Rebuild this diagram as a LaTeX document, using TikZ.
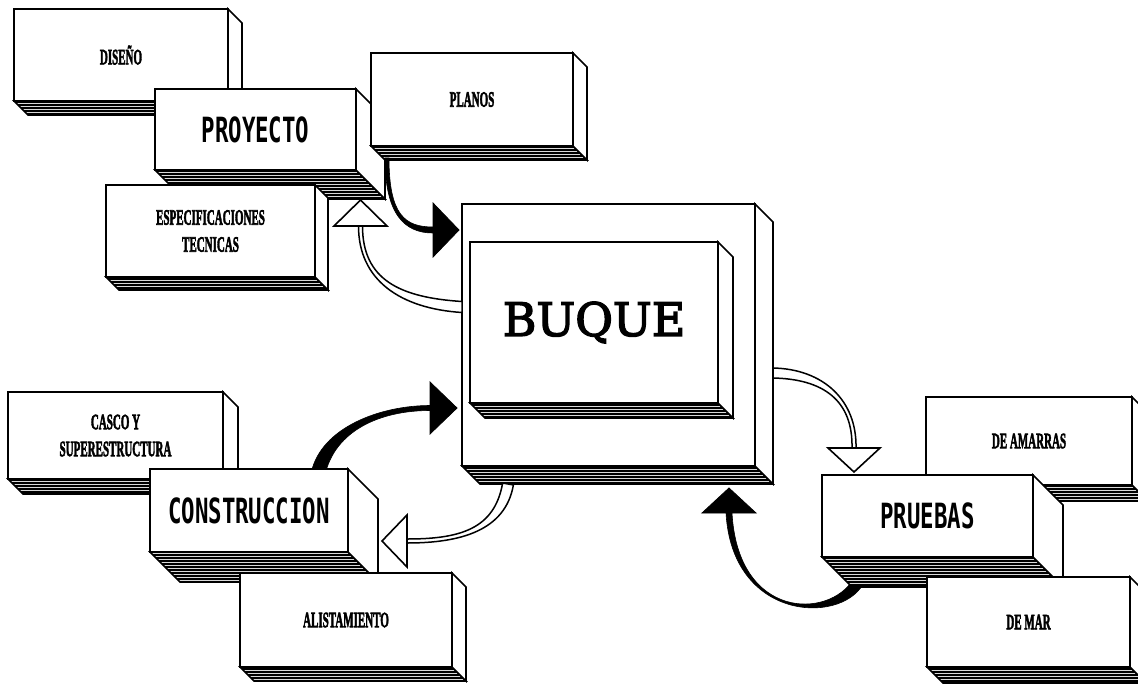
\documentclass[tikz,border=0pt]{standalone}
\usepackage{fontspec}
\usetikzlibrary{patterns,calc}
\newfontfamily\bigfont{DejaVu Sans Mono}
\newfontfamily\smfont[FakeBold=3]{Liberation Serif}
\newfontfamily\buqfont[FakeBold=3]{DejaVu Serif}
\newcommand\narrow[1]{\scalebox{0.5}[1]{#1}}
\newcommand\tallmono[1]{\scalebox{1}[1.55]{#1}}

\tikzset{
  boxline/.style={draw=black, line width=1.6pt, line join=miter},
  boxfront/.style={boxline, fill=white, anchor=north west, inner sep=0pt, outer sep=0pt, align=center},
  boxside/.style={boxline, fill=white},
  boxbottom/.style={boxline, preaction={fill=black}, pattern=horizontal lines, pattern color=gray!30},
  bigtxt/.style={font=\bigfont\bfseries\fontsize{22.4}{26}\selectfont},
  smtxt/.style={font=\smfont\bfseries\fontsize{22}{27}\selectfont},
  buqtxt/.style={font=\buqfont\fontsize{46}{50}\selectfont},
  blackarrow/.style={fill=black, draw=black, line width=0.6pt},
  hollowarrow/.style={fill=white, draw=black, line width=1.5pt, line join=round},
  blackhead/.style={fill=black, draw=black, line width=0.8pt, line join=miter},
  whitehead/.style={fill=white, draw=black, line width=1.6pt, line join=miter},
}

% name, x, y, width, height, depth, text style, text
\newcommand\boxthreed[8]{%
  \node[boxfront,#7, minimum width=#4pt, minimum height=#5pt] (#1) at (#2,#3) {#8};
  \path[boxbottom] (#1.south west) -- ++(#6,#6) -- ($(#1.south east)+(#6,#6)$) -- (#1.south east) -- cycle;
  \path[boxside] (#1.north east) -- ++(#6,#6) -- ($(#1.south east)+(#6,#6)$) -- (#1.south east) -- cycle;
}

\begin{document}
\begin{tikzpicture}[x=1pt,y=-1pt]
\fill[white] (0,0) rectangle (1138,686);
\useasboundingbox (0,0) rectangle (1138,686);
\clip (0,0) rectangle (1138,686);

% ---------- upper left group ----------
\boxthreed{diseno}{14}{9}{214}{92}{14}{smtxt}{\narrow{DISEÑO}}
\boxthreed{proyecto}{155}{89}{201}{81}{29}{bigtxt}{\tallmono{PROYECTO}}
\boxthreed{planos}{371}{53}{202}{93}{14}{smtxt}{\narrow{PLANOS}}
\boxthreed{espec}{106}{185}{209}{92}{13}{smtxt}{\narrow{ESPECIFICACIONES}\\\narrow{TECNICAS}}

% ---------- BUQUE ----------
\boxthreed{buqueout}{462}{204}{293}{262}{18}{}{}
\boxthreed{buque}{470}{242}{248}{161}{15}{buqtxt}{BUQUE}

% connector coordinates
\coordinate (sA) at ($(planos.south west)+(16,12)$);
\coordinate (eA) at ($(buqueout.north west)+(-29,26)$);
\coordinate (sB) at ($(buqueout.north west)+(0,103)$);
\coordinate (eB) at ($(proyecto.south east)+(4.5,56)$);

% PLANOS -> BUQUE (black)
\path[blackarrow] ($(sA)+(2,0)$) .. controls ($(sA)+(2,57)$) and ($(eA)+(-28,-3)$) .. ($(eA)+(0,-3)$)
  -- ($(eA)+(0,3)$) .. controls ($(eA)+(-28,3)$) and ($(sA)+(-2,57)$) .. ($(sA)+(-2,0)$) -- cycle;
\path[blackhead] ($(eA)+(0,-27)$) -- ($(eA)+(26,0)$) -- ($(eA)+(0,27)$) -- cycle;

% BUQUE -> ESPECIFICACIONES / PROYECTO (hollow)
\path[hollowarrow] ($(sB)+(0,-5.5)$) .. controls ($(sB)+(-62,-9.5)$) and ($(eB)+(2,54)$) .. ($(eB)+(2,0)$)
  -- ($(eB)+(-2,0)$) .. controls ($(eB)+(-2,54)$) and ($(sB)+(-62,1.5)$) .. ($(sB)+(0,5.5)$) -- cycle;
\path[whitehead] ($(eB)+(-26.5,0)$) -- ($(eB)+(26.5,0)$) -- ($(eB)+(0,-26)$) -- cycle;

% ---------- lower left group ----------
\boxthreed{casco}{8}{392}{215}{87}{15}{smtxt}{\narrow{CASCO Y}\\\narrow{SUPERESTRUCTURA}}
\coordinate (sC) at (318,474);
\coordinate (eC) at ($(buqueout.north west)+(-32,204)$);
\path[blackarrow] ($(sC)+(6.8,1.5)$) .. controls ($(sC)+(16.8,-43.5)$) and ($(eC)+(-50,2.5)$) .. ($(eC)+(0,2.5)$)
  -- ($(eC)+(0,-2.5)$) .. controls ($(eC)+(-50,-2.5)$) and ($(sC)+(3.2,-46.5)$) .. ($(sC)+(-6.8,-1.5)$) -- cycle;
\path[blackhead] ($(eC)+(0,-26)$) -- ($(eC)+(27,0)$) -- ($(eC)+(0,26)$) -- cycle;
\boxthreed{constr}{150}{469}{198}{83}{30}{bigtxt}{\tallmono{CONSTRUCCION}}
\boxthreed{alist}{240}{573}{212}{94}{14}{smtxt}{\narrow{ALISTAMIENTO}}

\coordinate (sD) at ($(buqueout.south west)+(46,18)$);
\coordinate (eD) at ($(constr.south east)+(59,-11)$);
\path[hollowarrow] ($(sD)+(5.4,0.9)$) .. controls ($(sD)+(-2.6,46.9)$) and ($(eD)+(53,2)$) .. ($(eD)+(0,2)$)
  -- ($(eD)+(0,-2)$) .. controls ($(eD)+(53,-2)$) and ($(sD)+(-13.4,45.1)$) .. ($(sD)+(-5.4,-0.9)$) -- cycle;
\path[whitehead] ($(eD)+(0,-26)$) -- ($(eD)+(-25,0)$) -- ($(eD)+(0,26)$) -- cycle;

% ---------- right group ----------
\boxthreed{amarras}{926}{397}{206}{88}{16}{smtxt}{\narrow{DE AMARRAS}}
\coordinate (sF) at (858,582);
\coordinate (eF) at ($(buqueout.south east)+(-26,47)$);
\path[blackarrow] ($(sF)+(4.7,2.8)$) .. controls ($(sF)+(-19.3,42.8)$) and ($(eF)+(3,107)$) .. ($(eF)+(-3,0)$)
  -- ($(eF)+(3,0)$) .. controls ($(eF)+(9,107)$) and ($(sF)+(-28.7,37.2)$) .. ($(sF)+(-4.7,-2.8)$) -- cycle;
\path[blackhead] ($(eF)+(-27,0)$) -- ($(eF)+(27,0)$) -- ($(eF)+(0,-25)$) -- cycle;
\boxthreed{pruebas}{822}{475}{211}{82}{30}{bigtxt}{\tallmono{PRUEBAS}}
\boxthreed{demar}{927}{577}{203}{90}{16}{smtxt}{\narrow{DE MAR}}

\coordinate (sE) at ($(buqueout.north east)+(18,169)$);
\coordinate (eE) at ($(pruebas.north west)+(32,-27)$);
\path[hollowarrow] ($(sE)+(0,-5)$) .. controls ($(sE)+(50,-4)$) and ($(eE)+(3,-48)$) .. ($(eE)+(2,0)$)
  -- ($(eE)+(-2,0)$) .. controls ($(eE)+(-1,-48)$) and ($(sE)+(50,6)$) .. ($(sE)+(0,5)$) -- cycle;
\path[whitehead] ($(eE)+(-26,0)$) -- ($(eE)+(26,0)$) -- ($(eE)+(0,24)$) -- cycle;
\end{tikzpicture}
\end{document}
